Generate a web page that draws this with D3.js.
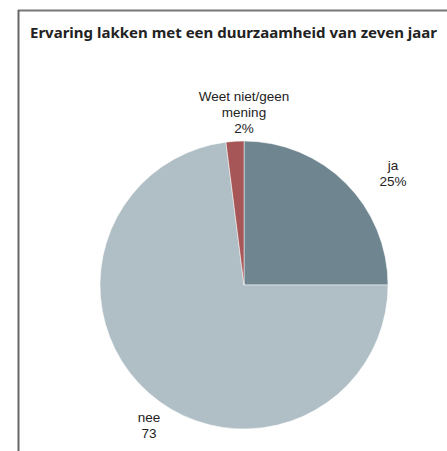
<!DOCTYPE html>
<html><head><meta charset="utf-8">
<script src="https://cdn.jsdelivr.net/npm/d3@7"></script>
<style>body{margin:0;background:#fff}svg{display:block}</style>
</head><body>
<script>
const title = "Ervaring lakken met een duurzaamheid van zeven jaar";
const categories = ["ja", "nee", "Weet niet/geen mening"];
const values = [25, 73, 2];
const labelLines = [["ja", "25%"], ["nee", "73"], ["Weet niet/geen", "mening", "2%"]];
const colors = ["#6f8691", "#b0bfc6", "#a65656"];

const W = 447, H = 451;
const svg = d3.select("body").append("svg").attr("width", W).attr("height", H);

// frame
svg.append("line").attr("x1", 18).attr("x2", W).attr("y1", 10.5).attr("y2", 10.5).attr("stroke", "#777").attr("stroke-width", 2);
svg.append("line").attr("x1", 18.5).attr("x2", 18.5).attr("y1", 10).attr("y2", H).attr("stroke", "#666").attr("stroke-width", 2);

svg.append("text").attr("x", 30).attr("y", 38).text(title)
  .attr("font-family", "Noto Sans, sans-serif").attr("font-weight", "bold").attr("font-size", 15).attr("fill", "#222");

const cx = 244, cy = 285, r = 144;
const pie = d3.pie().sort(null).value(d => d)(values);
const arc = d3.arc().innerRadius(0).outerRadius(r);
const g = svg.append("g").attr("transform", `translate(${cx},${cy})`);
g.selectAll("path").data(pie).join("path").attr("d", arc)
  .attr("fill", (d, i) => colors[i]).attr("stroke", "#fff").attr("stroke-width", 0.5);

const labelPos = [[149, -115], [-95, 137], [0, -184]];
const lg = g.selectAll("g.lbl").data(pie).join("g").attr("class", "lbl")
  .attr("transform", (d, i) => `translate(${labelPos[i][0]},${labelPos[i][1]})`);
lg.each(function(d, i) {
  const t = d3.select(this).append("text").attr("text-anchor", "middle")
    .attr("font-family", "Liberation Sans, Arial, sans-serif").attr("font-size", 13.5).attr("fill", "#222");
  labelLines[i].forEach((s, k) => t.append("tspan").attr("x", 0).attr("dy", k === 0 ? 0 : 16).text(s));
});
</script>
</body></html>
